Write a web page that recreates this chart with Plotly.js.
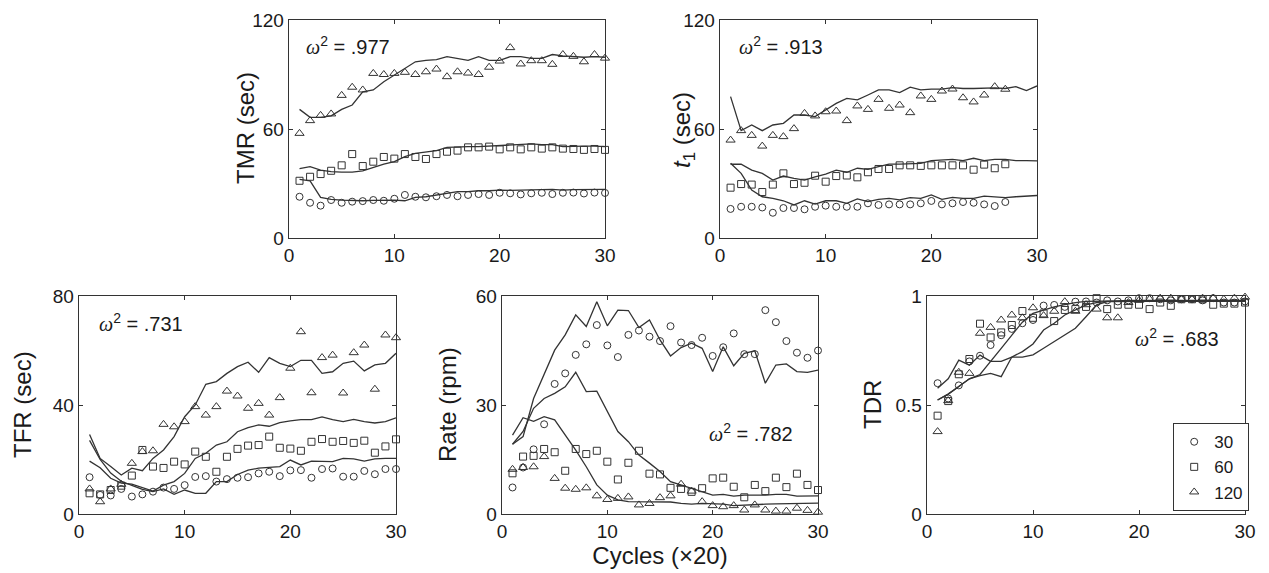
<!DOCTYPE html>
<html><head><meta charset="utf-8">
<script src="https://cdn.plot.ly/plotly-3.0.1.min.js"></script>
<style>html,body{margin:0;padding:0;background:#fff}#chart{width:1269px;height:573px}</style>
</head><body><div id="chart"></div>
<script>
// ---------- DATA ----------
const cycles = [1,2,3,4,5,6,7,8,9,10,11,12,13,14,15,16,17,18,19,20,21,22,23,24,25,26,27,28,29,30];
const seriesNames = ['30','60','120'];

// TMR (sec)
const tmrObs30  = [22.7,19.4,17.8,20.9,19.4,20,20.3,20.9,20.5,21.6,23.7,22.7,22.4,23,23.7,23,23.7,24.2,23.7,24.9,24.6,24,24.6,24.9,24.2,24.9,25,24.5,25,24.8];
const tmrObs60  = [31.5,33.7,35.2,37,40,46.2,39.6,42,44.6,43.7,46.2,44.6,43.5,46.2,47.5,48.1,49.9,49.9,50.3,48.8,49.9,48.8,49.9,49.2,49.9,49.2,49,48.5,49,48.5];
const tmrObs120 = [57.6,64.6,67.5,68.3,78.5,83,81.5,90.6,90,90.6,91.2,90,91.5,93,88.8,91.5,90.8,90,94,97.4,104.8,95.8,97.6,97.6,95.6,101,100,97,101,99];
const tmrFit30  = [32.3,31.5,22.4,21.3,20.9,20.5,20.5,20.7,20.9,20.9,20.5,22.4,22.7,23.7,24.9,25.5,25.5,26,26,26.4,26.2,26.2,26.6,26.6,26.8,26.4,26.6,26.8,26.6,26.8];
const tmrFit60  = [38.2,39.3,37.4,36.5,36.3,36.3,37,38.9,40.7,42,44.8,46.6,47.5,48.1,49.9,50.3,50.3,50.3,50.6,51,51,51.4,51.8,51.4,51.4,50.3,50.6,50.6,50.6,50.3];
const tmrFit120 = [70.8,66.4,66.4,67.2,70.8,73.2,80.5,81.5,86,89.7,93.4,97,97.8,98.2,99.8,98.9,97.8,99.8,97.8,97.8,99.8,99.8,98.9,98.9,101,100.3,100,99.5,99.8,99.5];

// t1 (sec) — observed up to cycle 27
const t1Obs30  = [16,17.2,17.2,16.8,13.9,16.5,16.5,15.8,17.2,17.8,17.2,17.2,17.2,19.1,18.2,18.5,18.5,18.5,19.1,20.4,18.5,19.1,19.8,19.4,18.5,17.6,19.8];
const t1Obs60  = [27.7,29.7,29.4,25.3,29.4,35.6,29.7,30.4,34.3,31,34.1,34.4,33.4,36.2,38,38,40,40,39.7,40,40,40,40,37.6,40.4,38.4,40.6];
const t1Obs120 = [53.9,59.1,56.5,50.6,56.5,55.8,60.2,68.6,67.2,69.5,69.9,64.6,72.7,70.8,76.3,71.4,73.2,69,78.2,76.3,80.9,82,77.2,74.9,78.7,83.3,81.9];
const t1Fit30  = [41.1,35.6,26.4,22.7,21.8,20.5,18.2,20.5,18.7,20.5,20.5,19.1,21.5,20,21.3,21.8,21,22.2,21.8,23.7,21.3,22.4,21.8,21.8,23,22.7,22.2,22.7,23,23.4];
const t1Fit60  = [40.6,40.7,37.4,35.6,31.9,34.1,32.8,31.9,33.7,35.2,37.4,36.2,38.4,37.8,39.3,40.7,40.7,41.1,41.1,42.6,42.8,43.3,42.6,43.9,42.6,43.3,43.3,42.6,42.6,42.4];
const t1Fit120 = [77.8,59.1,62.2,59.1,62.2,63.1,67.7,67.7,66.8,70.5,74.1,76.9,76,78.7,81.5,81.5,80,83,81.5,81.9,81.9,82.8,82.3,82.3,82.6,82.6,82.3,83.3,81.1,83.7];

// TFR (sec)
const tfrObs30  = [13.5,7,6.8,9.2,6.4,7.2,8.2,9.7,9.2,10.6,13.6,13.9,11.9,12.8,13.3,13.5,14.9,15.5,13.9,16,16.1,13.3,16.5,16.7,13.7,13.7,15.8,14.6,16.5,16.5];
const tfrObs60  = [7.6,7.2,8.8,10.4,14.1,23.5,17.4,16.9,19.2,18.2,22.9,21,15.5,21,23.9,25.1,25.3,28.4,24.3,24,23.2,26.5,27.5,26.5,26.8,26.1,26.9,22.5,24.8,27.4];
const tfrObs120 = [9.2,4.5,9.2,10.9,18.6,22.9,23.2,32.9,32,33.9,39.4,36.3,39.4,45.1,43.3,38.8,40.6,36.3,42.7,53.5,66.9,44.5,57.4,58.3,44.4,59.2,62,45.8,65.7,64.7];
const tfrFit30  = [27,20,15,12,10.5,9,8.2,9.2,7.2,8.8,7.6,7.6,11.9,11.9,14.5,16.1,16.8,17.1,17.4,19.8,18,19.4,19.2,19.2,20.4,20.2,19.4,20.2,20.4,20.4];
const tfrFit60  = [19.4,17,13.1,11.3,11,9.7,8.4,10.6,11.9,14.9,20.4,22.3,25.3,26.5,30.2,31.7,32.7,32.2,33.5,34.2,34.6,34.6,35.6,34.6,33.9,34.7,33.9,33.4,33.9,35.3];
const tfrFit120 = [29.2,20.4,17.4,14.3,16.8,15.9,20.4,23.5,28.4,35.7,40,47.6,48.6,51.6,54.1,55.7,52,57.4,55.3,54.1,56.4,56.4,51.6,52.2,55.3,56.1,52.5,54.7,55.3,59];

// Rate (rpm)
const rateObs30  = [7.3,12.8,17.8,24.7,35.8,38.7,43.8,46.7,52,46.4,43.2,49.3,50.5,48.8,47.6,51.7,47.2,46.5,48.5,43.5,45.9,49.7,44,44,56.1,52.8,47.6,44.4,43,45];
const rateObs60  = [11.2,15.8,16,17.9,17,11.9,17.9,16.5,17.4,14.4,9.5,14.1,17.4,11.1,10.9,7.2,6.9,6.1,7.1,9.8,10,7.5,4.6,8,6.3,10,7.4,11.1,8,6.6];
const rateObs120 = [12.3,12.8,13,15.8,9.8,7.1,6.8,7.2,5,4,4.3,4.7,2.5,2.9,4.5,5,8.2,6.3,3.4,2.3,2,2.3,1.1,2.5,1.1,0.8,0.8,1.6,1,0.5];
const rateFit30  = [19.2,21.3,31.8,38.3,45.1,49.3,54.8,51.6,58.4,51.8,56.1,56,51.3,53.4,47.9,43.5,45.8,47,45.6,39.2,46,40.8,44.2,44.9,36,41,41.3,39.2,39,39.6];
const rateFit60  = [19.2,22.7,29.1,31.8,33.2,35,39,33.7,33.8,28.3,22.7,19.9,16.2,14,11.7,8.9,8,7.1,6.3,5.2,5.4,4.9,5.2,5.1,5.2,5.4,5.4,4.9,5,5];
const rateFit120 = [21.7,26.5,25.5,26.8,25.9,21.7,17.6,13,8,5.2,3.9,3.4,3.4,3.5,3.4,3.3,2.9,2.7,2.9,2.9,2.7,2.3,2.5,2.6,2.7,2.8,2.9,3,3,3];

// TDR
const tdrObs30  = [0.60,0.53,0.59,0.70,0.726,0.775,0.82,0.849,0.875,0.89,0.956,0.959,0.95,0.974,0.975,0.97,0.98,0.975,0.98,0.99,0.99,0.985,0.98,0.985,0.985,0.98,0.99,0.97,0.97,0.975];
const tdrObs60  = [0.451,0.518,0.641,0.711,0.873,0.81,0.833,0.867,0.931,0.90,0.92,0.885,0.936,0.94,0.95,0.99,0.94,0.96,0.96,0.96,0.94,0.97,0.955,0.985,0.985,0.985,0.96,0.965,0.965,0.97];
const tdrObs120 = [0.378,0.52,0.65,0.645,0.829,0.856,0.89,0.913,0.90,0.946,0.91,0.93,0.974,0.93,0.96,0.94,0.90,0.90,0.97,0.98,0.985,0.99,0.99,0.985,0.985,0.99,0.99,0.985,0.99,0.995];
const tdrFit30  = [0.577,0.62,0.706,0.683,0.729,0.70,0.76,0.82,0.88,0.92,0.936,0.95,0.96,0.97,0.975,0.975,0.978,0.978,0.98,0.98,0.98,0.98,0.98,0.98,0.98,0.98,0.98,0.98,0.98,0.98];
const tdrFit60  = [0.523,0.55,0.585,0.62,0.64,0.70,0.70,0.72,0.745,0.78,0.844,0.875,0.913,0.936,0.959,0.97,0.975,0.975,0.975,0.975,0.975,0.975,0.975,0.975,0.975,0.975,0.975,0.975,0.975,0.975];
const tdrFit120 = [0.523,0.55,0.585,0.62,0.635,0.645,0.63,0.72,0.72,0.73,0.76,0.79,0.82,0.852,0.905,0.959,0.974,0.975,0.975,0.975,0.975,0.975,0.975,0.975,0.975,0.975,0.975,0.975,0.975,0.975];

const omegaTexts = ['.977','.913','.731','.782','.683'];
const yTitles = ['TMR (sec)','<i>t</i><sub>1</sub> (sec)','TFR (sec)','Rate (rpm)','TDR'];
const xTitle = 'Cycles (×20)';
const yRanges = [[0,120],[0,120],[0,80],[0,60],[0,1]];
const yTicks  = [[0,60,120],[0,60,120],[0,40,80],[0,30,60],[0,0.5,1]];
const yTickText = [['0','60','120'],['0','60','120'],['0','40','80'],['0','30','60'],['0','0.5','1']];
const xTicks = [0,10,20,30];

// ---------- STYLE / LAYOUT ----------
const W = 1269, H = 573;
const INK = '#333333';
const FONT = 'Liberation Sans, Arial, Helvetica, sans-serif';
const symbols = ['circle-open','square-open','triangle-up-open'];
const msize = [7,7,8];
// panel boxes in pixels: [left, right, top, bottom]
const boxes = [[289,605,20,238],[720,1037,20,238],[79,396,296,514],[502,818,296,514],[927,1245,296,514]];
// y-title centres (px) and omega label anchors (px)
const yTitlePos = [[246,128],[683,130],[22,405],[447,405],[872,405]];
const omegaPos = [[304,45],[737,45],[97,322],[707,432],[1133,337]];

const panels = [
  {obs:[tmrObs30,tmrObs60,tmrObs120], fit:[tmrFit30,tmrFit60,tmrFit120]},
  {obs:[t1Obs30,t1Obs60,t1Obs120], fit:[t1Fit30,t1Fit60,t1Fit120]},
  {obs:[tfrObs30,tfrObs60,tfrObs120], fit:[tfrFit30,tfrFit60,tfrFit120]},
  {obs:[rateObs30,rateObs60,rateObs120], fit:[rateFit30,rateFit60,rateFit120]},
  {obs:[tdrObs30,tdrObs60,tdrObs120], fit:[tdrFit30,tdrFit60,tdrFit120]}
];

const traces = [];
const layout = {
  width: W, height: H,
  margin: {l:0, r:0, t:0, b:0},
  paper_bgcolor: '#fff', plot_bgcolor: '#fff',
  font: {family: FONT, color: '#1a1a1a'},
  showlegend: true,
  legend: {
    x: 1173/W, y: 1 - 423/H, xanchor: 'left', yanchor: 'top',
    bordercolor: INK, borderwidth: 1.2, bgcolor: '#fff',
    font: {family: FONT, size: 17, color: '#1a1a1a'},
    itemwidth: 30, tracegroupgap: 0
  },
  annotations: []
};

panels.forEach((p, i) => {
  const n = i + 1;
  const xa = 'x' + (n === 1 ? '' : n), ya = 'y' + (n === 1 ? '' : n);
  const [l, r, t, b] = boxes[i];
  const axBase = {
    showline: true, mirror: 'ticks', linecolor: INK, linewidth: 1.3,
    ticks: 'inside', ticklen: 4, tickwidth: 1, tickcolor: INK,
    showgrid: false, zeroline: false, fixedrange: true,
    tickfont: {family: FONT, size: 19, color: '#1a1a1a'}
  };
  layout['xaxis' + (n === 1 ? '' : n)] = Object.assign({}, axBase, {
    domain: [l / W, r / W], anchor: ya, range: [0, 30],
    tickmode: 'array', tickvals: xTicks
  });
  layout['yaxis' + (n === 1 ? '' : n)] = Object.assign({}, axBase, {
    domain: [1 - b / H, 1 - t / H], anchor: xa, range: yRanges[i],
    tickmode: 'array', tickvals: yTicks[i], ticktext: yTickText[i]
  });
  // fitted lines
  p.fit.forEach((ys) => {
    traces.push({
      type: 'scatter', mode: 'lines', x: cycles.slice(0, ys.length), y: ys,
      xaxis: xa, yaxis: ya, line: {color: INK, width: 1.3},
      showlegend: false, hoverinfo: 'skip'
    });
  });
  // observed markers
  p.obs.forEach((ys, k) => {
    traces.push({
      type: 'scatter', mode: 'markers', x: cycles.slice(0, ys.length), y: ys,
      xaxis: xa, yaxis: ya, name: seriesNames[k], cliponaxis: false,
      marker: {symbol: symbols[k], size: msize[k], color: INK, line: {color: INK, width: 1}},
      showlegend: i === 4
    });
  });
  // y-axis title
  layout.annotations.push({
    xref: 'paper', yref: 'paper', x: yTitlePos[i][0] / W, y: 1 - yTitlePos[i][1] / H,
    xanchor: 'center', yanchor: 'middle', showarrow: false, textangle: -90,
    text: yTitles[i], font: {family: FONT, size: 24, color: '#1a1a1a'}
  });
  // omega-squared label
  layout.annotations.push({
    xref: 'paper', yref: 'paper', x: omegaPos[i][0] / W, y: 1 - omegaPos[i][1] / H,
    xanchor: 'left', yanchor: 'middle', showarrow: false,
    text: '<span style="font-family:\'Liberation Serif\',serif"><i>ω</i></span><sup>2</sup> = ' + omegaTexts[i],
    font: {family: FONT, size: 20, color: '#1a1a1a'}
  });
});

layout.xaxis4.title = {text: xTitle, font: {family: FONT, size: 24, color: '#1a1a1a'}, standoff: 6};

Plotly.newPlot('chart', traces, layout, {staticPlot: true, displayModeBar: false});
</script></body></html>
